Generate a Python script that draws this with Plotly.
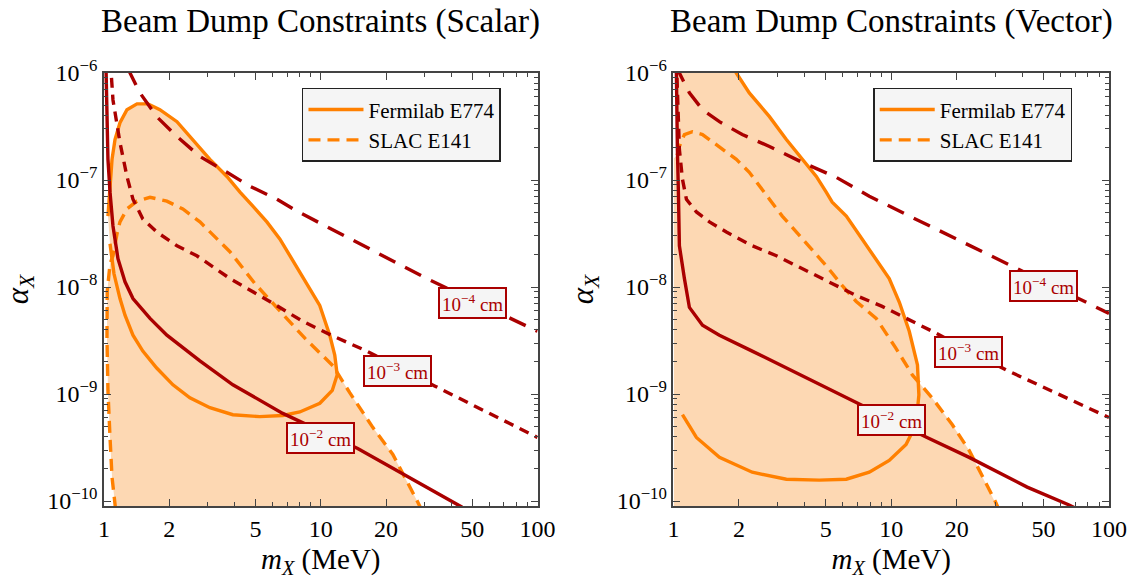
import math
import plotly.graph_objects as go

# ---------------- axis ticks ----------------
x_tick_vals = [1, 2, 5, 10, 20, 50, 100]
x_tick_text = ["1", "2", "5", "10", "20", "50", "100"]
x_minor_vals = [3, 4, 6, 7, 8, 9, 30, 40, 60, 70, 80, 90]
y_tick_vals = [1e-10, 1e-9, 1e-8, 1e-7, 1e-6]
y_tick_text = ["10<sup>−10</sup>", "10<sup>−9</sup>", "10<sup>−8</sup>", "10<sup>−7</sup>", "10<sup>−6</sup>"]
y_minor_vals = [k * 10.0 ** e for e in range(-10, -6) for k in range(2, 10)]

# ---------------- Scalar panel ----------------
s_e774_m = [1.043, 1.089, 1.124, 1.185, 1.276, 1.42, 1.595, 1.81, 2.17, 2.57, 3.08, 3.69, 4.24, 4.86,
            5.64, 6.47, 7.2, 8.26, 9.89, 11.0, 11.6, 11.9, 11.3, 9.9, 8.0, 6.68, 5.23, 3.93, 3.08,
            2.49, 2.08, 1.75, 1.51, 1.36, 1.25, 1.185, 1.112, 1.066]
s_e774_a = [4.6e-8, 1.56e-7, 2.39e-7, 3.43e-7, 4.54e-7, 5.15e-7, 5.15e-7, 4.54e-7, 3.51e-7, 2.39e-7,
            1.56e-7, 1.08e-7, 7.7e-8, 5.7e-8, 4.06e-8, 2.82e-8, 1.96e-8, 1.2e-8, 6.73e-9, 3.55e-9,
            2.31e-9, 1.51e-9, 1.08e-9, 8.2e-10, 6.8e-10, 6.3e-10, 6.15e-10, 6.41e-10, 7.45e-10,
            9.23e-10, 1.22e-9, 1.75e-9, 2.52e-9, 3.55e-9, 5.45e-9, 7.8e-9, 1.33e-8, 2.54e-8]

s_e141_m = [1.13, 1.089, 1.066, 1.043, 1.032, 1.035, 1.066, 1.10, 1.148, 1.185, 1.276, 1.42, 1.63,
            1.95, 2.31, 2.77, 3.32, 3.81, 4.96, 6.47, 8.44, 11.4, 13.6, 17.4, 21.5, 28.0, 29.5]
s_e141_a = [8.5e-11, 1.67e-10, 3.93e-10, 1.07e-9, 3.33e-9, 9.1e-9, 1.64e-8, 1.96e-8, 3.14e-8, 4.06e-8,
            5.36e-8, 6.35e-8, 6.9e-8, 6.35e-8, 5.36e-8, 4.06e-8, 2.82e-8, 2.14e-8, 1.08e-8, 5.93e-9,
            3.33e-9, 1.83e-9, 1.03e-9, 4.86e-10, 2.73e-10, 9.8e-11, 7.9e-11]
s_e141_fill_m = [1.13]        # closes the region along the bottom
s_e141_fill_a = [5e-11]

s_l2_m = [1.02, 1.032, 1.043, 1.066, 1.10, 1.16, 1.25, 1.36, 1.63, 1.95, 2.77, 3.93, 5.64, 6.68, 14.8, 44.7, 50.0]
s_l2_a = [1.3e-6, 3.66e-7, 1.56e-7, 7.7e-8, 3.72e-8, 1.84e-8, 1.12e-8, 7.8e-9, 5.1e-9, 3.55e-9,
          2.04e-9, 1.22e-9, 7.95e-10, 6.6e-10, 3.1e-10, 8.8e-11, 7.5e-11]
s_l3_m = [1.07, 1.10, 1.185, 1.276, 1.36, 1.51, 1.75, 2.17, 2.68, 3.81, 5.82, 8.26, 11.4, 16.3, 33.5, 100]
s_l3_a = [1.3e-6, 5.6e-7, 2.24e-7, 1.08e-7, 6.62e-8, 4.33e-8, 3.27e-8, 2.43e-8, 1.96e-8, 1.2e-8,
          7.33e-9, 4.78e-9, 3.48e-9, 2.52e-9, 1.19e-9, 3.93e-10]
s_l4_m = [1.30, 1.318, 1.465, 1.75, 2.17, 2.77, 3.69, 4.71, 6.27, 7.75, 30.8, 100]
s_l4_a = [1.1e-6, 1.0e-6, 6.52e-7, 3.91e-7, 2.55e-7, 1.66e-7, 1.18e-7, 8.75e-8, 6.62e-8, 5.13e-8, 1.2e-8, 3.86e-9]

s_lab_m = [50, 22.6, 10]
s_lab_a = [7.1e-9, 1.64e-9, 3.85e-10]

# ---------------- Vector panel ----------------
v_e774_m = [1.85, 1.945, 2.23, 2.76, 3.30, 3.91, 4.53, 5.03, 5.36, 6.22, 7.36, 8.53, 9.79, 10.9, 12.1,
            13.2, 13.4, 13.0, 11.7, 9.79, 7.93, 6.22, 4.67, 3.30, 2.30, 1.626, 1.275, 1.10]
v_e774_a = [1.2e-6, 1.0e-6, 6.52e-7, 3.91e-7, 2.39e-7, 1.56e-7, 1.08e-7, 7.7e-8, 6.22e-8, 4.6e-8,
            2.82e-8, 1.84e-8, 1.2e-8, 7.2e-9, 3.86e-9, 1.87e-9, 9.84e-10, 5.19e-10, 3.38e-10, 2.4e-10,
            1.86e-10, 1.6e-10, 1.57e-10, 1.6e-10, 1.86e-10, 2.56e-10, 3.93e-10, 6.41e-10]
v_e774_fill_m = [1.05, 1.05]   # left edge of the shaded E774 region
v_e774_fill_a = [6.41e-10, 1.2e-6]

v_e141_m = [1.04, 1.065, 1.123, 1.222, 1.36, 1.626, 1.945, 2.23, 2.48, 2.76, 3.16, 3.67, 4.21, 5.03,
            5.96, 6.91, 8.53, 10.5, 12.5, 15.4, 19.05, 22.8, 30.0, 31.5]
v_e141_a = [1.7e-7, 2.06e-7, 2.66e-7, 2.83e-7, 2.66e-7, 2.06e-7, 1.56e-7, 1.18e-7, 8.75e-8, 6.62e-8,
            4.6e-8, 3.27e-8, 2.43e-8, 1.58e-8, 1.03e-8, 7.33e-9, 5.1e-9, 2.69e-9, 1.51e-9, 9.23e-10,
            5.19e-10, 2.97e-10, 1.0e-10, 8.0e-11]
v_e141_fill_m = [1.005, 1.005]
v_e141_fill_a = [5e-11, 1.6e-7]

v_l2_m = [1.03, 1.032, 1.043, 1.054, 1.065, 1.123, 1.184, 1.36, 1.626, 2.30, 3.30, 4.67, 6.62, 14.6, 22.8, 42.1, 65.6, 75]
v_l2_a = [1.3e-6, 5.6e-7, 1.9e-7, 7.7e-8, 2.43e-8, 1.2e-8, 6.45e-9, 4.4e-9, 3.55e-9, 2.52e-9, 1.75e-9,
          1.22e-9, 8.65e-10, 3.93e-10, 2.56e-10, 1.35e-10, 9.2e-11, 8.0e-11]
v_l3_m = [1.032, 1.043, 1.065, 1.10, 1.147, 1.275, 1.463, 1.75, 2.30, 2.97, 3.91, 5.19, 6.91, 9.09, 16.1, 33.7, 100]
v_l3_a = [1.3e-6, 5.6e-7, 1.93e-7, 1.02e-7, 6.62e-8, 5.03e-8, 4.06e-8, 3.27e-8, 2.43e-8, 1.96e-8,
          1.49e-8, 1.12e-8, 8.33e-9, 6.59e-9, 3.7e-9, 1.68e-9, 6.03e-10]
v_l4_m = [1.05, 1.065, 1.184, 1.36, 1.626, 2.07, 2.76, 3.91, 5.59, 7.93, 12.1, 30.3, 100]
v_l4_a = [1.2e-6, 1.0e-6, 6.52e-7, 4.54e-7, 3.51e-7, 2.66e-7, 2.06e-7, 1.46e-7, 1.06e-7, 7.06e-8,
          4.61e-8, 1.84e-8, 5.67e-9]

v_lab_m = [50, 22.6, 10]
v_lab_a = [1.03e-8, 2.47e-9, 5.77e-10]

lab_text = ["10<sup>−4</sup> cm", "10<sup>−3</sup> cm", "10<sup>−2</sup> cm"]

# ---------------- styles ----------------
ORANGE = "#ff8000"
FILL = "#fdd8b3"
DRED = "#aa0000"
FONT = "Liberation Serif, Times New Roman, serif"
LW = 3.4

fig = go.Figure()


def panel(xa, ya, legend, e774_m, e774_a, e774_fm, e774_fa, e141_m, e141_a, e141_fm, e141_fa,
          l2m, l2a, l3m, l3a, l4m, l4a):
    # shaded excluded regions
    fig.add_trace(go.Scatter(x=e774_m + e774_fm, y=e774_a + e774_fa, mode="lines", fill="toself",
                             fillcolor=FILL, line=dict(width=0, color=FILL), hoverinfo="skip",
                             showlegend=False, xaxis=xa, yaxis=ya))
    fig.add_trace(go.Scatter(x=e141_m + e141_fm, y=e141_a + e141_fa, mode="lines", fill="toself",
                             fillcolor=FILL, line=dict(width=0, color=FILL), hoverinfo="skip",
                             showlegend=False, xaxis=xa, yaxis=ya))
    # boundaries
    fig.add_trace(go.Scatter(x=e774_m, y=e774_a, mode="lines", name="Fermilab E774",
                             line=dict(color=ORANGE, width=LW), xaxis=xa, yaxis=ya, legend=legend))
    fig.add_trace(go.Scatter(x=e141_m, y=e141_a, mode="lines", name="SLAC E141",
                             line=dict(color=ORANGE, width=LW, dash="12px,7px"), xaxis=xa, yaxis=ya,
                             legend=legend))
    # decay length contours
    fig.add_trace(go.Scatter(x=l2m, y=l2a, mode="lines", line=dict(color=DRED, width=LW),
                             showlegend=False, xaxis=xa, yaxis=ya))
    fig.add_trace(go.Scatter(x=l3m, y=l3a, mode="lines", line=dict(color=DRED, width=LW, dash="10px,7px"),
                             showlegend=False, xaxis=xa, yaxis=ya))
    fig.add_trace(go.Scatter(x=l4m, y=l4a, mode="lines", line=dict(color=DRED, width=LW, dash="18px,11px"),
                             showlegend=False, xaxis=xa, yaxis=ya))


panel("x", "y", "legend", s_e774_m, s_e774_a, [], [], s_e141_m, s_e141_a, s_e141_fill_m, s_e141_fill_a,
      s_l2_m, s_l2_a, s_l3_m, s_l3_a, s_l4_m, s_l4_a)
panel("x2", "y2", "legend2", v_e774_m, v_e774_a, v_e774_fill_m, v_e774_fill_a, v_e141_m, v_e141_a,
      v_e141_fill_m, v_e141_fill_a, v_l2_m, v_l2_a, v_l3_m, v_l3_a, v_l4_m, v_l4_a)

annotations = []
for xr, yr, ms, als in [("x", "y", s_lab_m, s_lab_a), ("x2", "y2", v_lab_m, v_lab_a)]:
    for m, a, t in zip(ms, als, lab_text):
        annotations.append(dict(x=math.log10(m), y=math.log10(a), xref=xr, yref=yr, text=t,
                                showarrow=False, font=dict(family=FONT, size=19, color=DRED),
                                bgcolor="#f5f5f5", bordercolor=DRED, borderwidth=2, borderpad=2))

for xc, title in [(0.2157, "Beam Dump Constraints (Scalar)"), (0.7831, "Beam Dump Constraints (Vector)")]:
    annotations.append(dict(x=xc, y=1.12, xref="paper", yref="paper", text=title, showarrow=False,
                            xanchor="center", yanchor="middle", font=dict(family=FONT, size=33, color="black")))

axis_common = dict(type="log", showgrid=False, zeroline=False, showline=True, linecolor="#444",
                   linewidth=1.5, mirror="allticks", ticks="inside", tickcolor="#444", ticklen=7,
                   tickwidth=1.2, tickfont=dict(family=FONT, size=24, color="black"))
xaxis_common = dict(axis_common, range=[0, 2], tickmode="array", tickvals=x_tick_vals, ticktext=x_tick_text,
                    minor=dict(tickmode="array", tickvals=x_minor_vals, ticks="inside", ticklen=4,
                               tickcolor="#444", tickwidth=1),
                    title=dict(text="<i>m</i><sub><i>X</i></sub> (MeV)",
                               font=dict(family=FONT, size=29, color="black"), standoff=8))
yaxis_common = dict(axis_common, range=[-10.046, -6], tickmode="array", tickvals=y_tick_vals,
                    ticktext=y_tick_text,
                    minor=dict(tickmode="array", tickvals=y_minor_vals, ticks="inside", ticklen=4,
                               tickcolor="#444", tickwidth=1),
                    title=dict(text="<i>α</i><sub><i>X</i></sub>",
                               font=dict(family=FONT, size=31, color="black"), standoff=14))

legend_common = dict(bgcolor="#f5f5f5", bordercolor="#222", borderwidth=1.5,
                     font=dict(family=FONT, size=21, color="black"), xanchor="left", yanchor="top",
                     itemwidth=55, tracegroupgap=0)

fig.update_layout(
    width=1139, height=582,
    margin=dict(l=104, r=29, t=73, b=73),
    paper_bgcolor="white", plot_bgcolor="white",
    font=dict(family=FONT, color="black"),
    xaxis=dict(xaxis_common, domain=[0, 0.4314], anchor="y"),
    yaxis=dict(yaxis_common, domain=[0, 1], anchor="x"),
    xaxis2=dict(xaxis_common, domain=[0.5666, 1], anchor="y2"),
    yaxis2=dict(yaxis_common, domain=[0, 1], anchor="x2"),
    legend=dict(legend_common, x=0.197, y=0.9656),
    legend2=dict(legend_common, x=0.7654, y=0.9656),
    annotations=annotations,
)

fig.write_html("out.html")
